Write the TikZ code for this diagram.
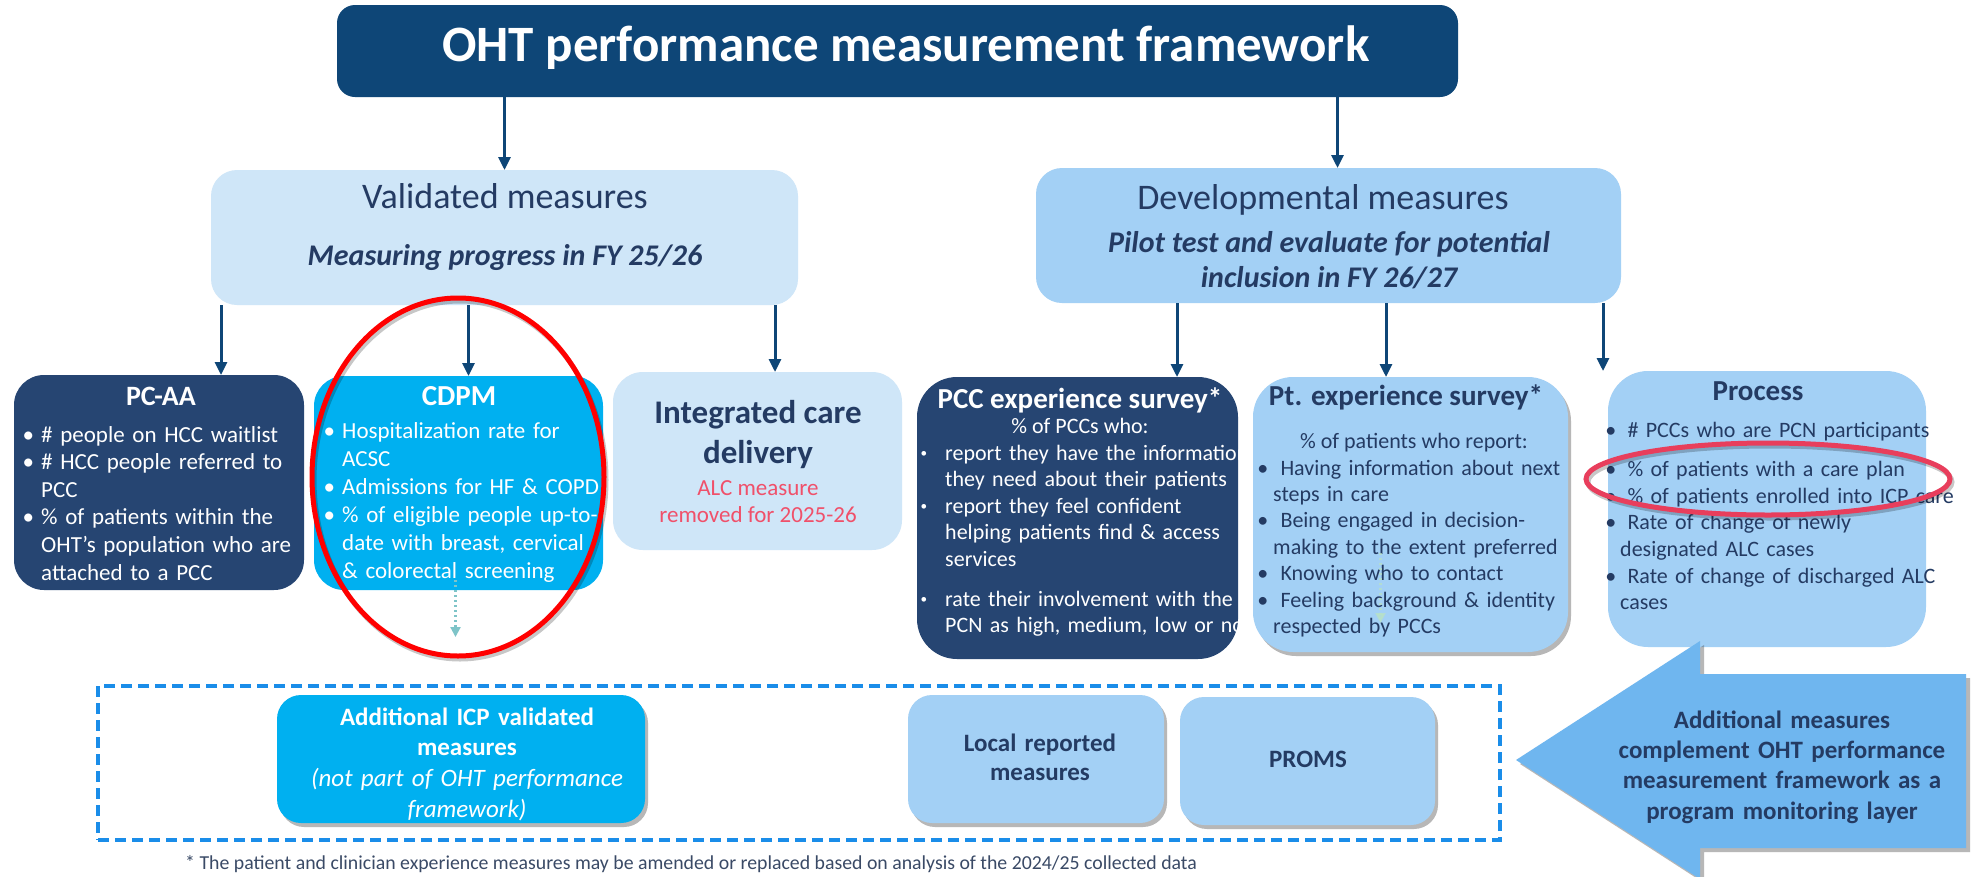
\documentclass[tikz,border=0pt]{standalone}
\usepackage{fontspec}
\setmainfont{Carlito}
\usetikzlibrary{arrows.meta,shadows}

\definecolor{titleblue}{HTML}{0E4677}
\definecolor{navy}{HTML}{264572}
\definecolor{cyanbox}{HTML}{00B0F0}
\definecolor{palebox}{HTML}{CFE6F8}
\definecolor{skybox}{HTML}{A3D0F5}
\definecolor{bigarrow}{HTML}{6FB6EF}
\definecolor{inktext}{HTML}{243B63}
\definecolor{alcred}{HTML}{F0506A}
\definecolor{dashblue}{HTML}{1A8DE9}
\definecolor{circlered}{HTML}{FF0000}
\definecolor{circlepink}{HTML}{E83E5C}
\definecolor{dotteal}{HTML}{7EC4C8}
\definecolor{dotgreen}{HTML}{B9E2C4}
\definecolor{notegray}{HTML}{3A4A66}

\newcommand\fs[2]{\fontsize{#1}{#2}\selectfont}
\newcommand\bu[1][7pt]{\leavevmode\llap{\textbullet\hspace{#1}}}
\newcommand\smallbu[1][18pt]{\leavevmode\llap{\raisebox{.12em}{\scalebox{.6}{\textbullet}}\hspace{#1}}}

\begin{document}
\begin{tikzpicture}[x=1pt,y=-1pt,
  box/.style={rectangle, inner sep=0pt, outer sep=0pt, rounded corners=#1},
  box/.default=26pt,
  softshadow/.style={drop shadow={shadow xshift=3pt,shadow yshift=-4pt,opacity=.4,fill=black!70}},
  arr/.style={draw=titleblue, line width=3pt, -{Triangle[length=13pt,width=12pt]}},
  dotline/.style={draw=#1, line width=2.2pt, dash pattern=on 2pt off 3pt, -{Triangle[length=10pt,width=10pt]}},
  txt/.style={inner sep=0pt, anchor=base},
  blist/.style={inner sep=0pt, anchor=base west, text width=#1, align=left},
  ctext/.style={inner sep=0pt, anchor=base, text width=#1, align=center},
]
\useasboundingbox (0,0) rectangle (1979,876);
\fill[white] (0,0) rectangle (1979,876);

% ---------- header ----------
\node[box=18pt, fill=titleblue, minimum width=1121pt, minimum height=92pt] (title) at (897.5,51) {};
\node[txt, text=white, font=\fs{51}{61}\bfseries] (titletext) at (906,61) {OHT performance measurement framework};

% ---------- measure families ----------
\node[box=26pt, fill=palebox, minimum width=587pt, minimum height=135pt] (val) at (504.5,237.5) {};
\node[txt, text=inktext, font=\fs{36}{43}] (valtitle) at (505,208) {Validated measures};
\node[txt, text=inktext, font=\fs{30}{36}\bfseries\itshape] (valsub) at (505,265) {Measuring progress in FY 25/26};

\node[box=26pt, fill=skybox, minimum width=585pt, minimum height=135pt] (dev) at (1328.5,235.5) {};
\node[txt, text=inktext, font=\fs{36}{43}] (devtitle) at (1323,209) {Developmental measures};
\node[txt, text=inktext, font=\fs{30}{36}\bfseries\itshape] (devsuba) at (1329,252) {Pilot test and evaluate for potential};
\node[txt, text=inktext, font=\fs{30}{36}\bfseries\itshape] (devsubb) at (1329,287) {inclusion in FY 26/27};

% ---------- validated measure boxes ----------
\node[box=30pt, fill=navy, minimum width=290pt, minimum height=215pt] (pcaa) at (159,482.5) {};
\node[txt, text=white, font=\fs{28}{34}\bfseries] (pcaatitle) at (161,405) {PC-AA};
\node[blist=300pt, text=white, font=\fs{23}{27.6}] (pcaalist) at (41,442)
  {\bu \# people on HCC waitlist\\
   \bu \# HCC people referred to\\
   PCC\\
   \bu \% of patients within the\\
   OHT’s population who are\\
   attached to a PCC};

\node[box=30pt, fill=cyanbox, minimum width=289pt, minimum height=214pt] (cdpm) at (458.5,483) {};
\node[txt, text=white, font=\fs{29}{34}\bfseries] (cdpmtitle) at (459,405) {CDPM};
\node[blist=300pt, text=white, font=\fs{23}{28}] (cdpmlist) at (342,438)
  {\bu Hospitalization rate for\\
   ACSC\\
   \bu Admissions for HF \& COPD\\
   \bu \% of eligible people up-to-\\
   date with breast, cervical\\
   \& colorectal screening};

\node[box=30pt, fill=palebox, minimum width=289pt, minimum height=178pt] (icd) at (757.5,461) {};
\node[txt, text=inktext, font=\fs{33}{40}\bfseries] (icdtitle) at (758,423) {Integrated care};
\node[txt, text=inktext, font=\fs{33}{40}\bfseries] (icdtitleb) at (758,463) {delivery};
\node[txt, text=alcred, font=\fs{23}{28}] (alca) at (758,495) {ALC measure};
\node[txt, text=alcred, font=\fs{23}{28}] (alcb) at (758,522) {removed for 2025-26};

% ---------- developmental measure boxes ----------
\node[box=40pt, fill=navy, minimum width=321pt, minimum height=282pt] (pcc) at (1077.5,518) {};
\node[txt, text=white, font=\fs{29}{34}\bfseries] (pcctitle) at (1080,408) {PCC experience survey*};
\node[txt, text=white, font=\fs{22}{26.5}] (pcclead) at (1080,433) {\% of PCCs who:};
\node[blist=320pt, text=white, font=\fs{22}{26.5}] (pcclist) at (945,460)
  {\smallbu report they have the information\\
   they need about their patients\\
   \smallbu report they feel confident\\
   helping patients find \& access\\
   services\\[13.5pt]
   \smallbu rate their involvement with the\\
   PCN as high, medium, low or no};

\node[box=40pt, fill=skybox, softshadow, minimum width=315pt, minimum height=275pt] (pt) at (1410.5,514.5) {};
\node[txt, text=inktext, font=\fs{29}{34}\bfseries] (pttitle) at (1406,405) {Pt. experience survey*};
\node[txt, text=inktext, font=\fs{22}{26.4}] (ptlead) at (1414,448) {\% of patients who report:};
\node[blist=320pt, text=inktext, font=\fs{22}{26.4}] (ptlist) at (1273,475)
  {\bu[5pt] Having information about next\\
   steps in care\\
   \bu[5pt] Being engaged in decision-\\
   making to the extent preferred\\
   \bu[5pt] Knowing who to contact\\
   \bu[5pt] Feeling background \& identity\\
   respected by PCCs};

\node[box=40pt, fill=skybox, minimum width=318pt, minimum height=276pt] (proc) at (1767,509) {};
\node[txt, text=inktext, font=\fs{29}{34}\bfseries] (proctitle) at (1758,400) {Process};
\node[blist=340pt, text=inktext, font=\fs{22}{26.6}] (proclist) at (1620,437)
  {\bu[4pt] \# PCCs who are PCN participants\\[13pt]
   \bu[4pt] \% of patients with a care plan\\
   \bu[4pt] \% of patients enrolled into ICP care\\
   \bu[4pt] Rate of change of newly\\
   designated ALC cases\\
   \bu[4pt] Rate of change of discharged ALC\\
   cases};

% ---------- connectors ----------
\draw[arr] (title.south -| val.north) -- (val.north);
\path (title.south -| dev.north) ++(9,0) coordinate (t2);
\draw[arr] (t2) -- (t2 |- dev.north);

\path (val.south west) ++(10,0) coordinate (v1);
\draw[arr] (v1) -- (v1 |- pcaa.north);
\path (val.south -| cdpm.north) ++(10,0) coordinate (v2);
\draw[arr] (v2) -- (v2 |- cdpm.north);
\path (val.south east) ++(-23,0) coordinate (v3);
\draw[arr] (v3) -- (v3 |- icd.north);

\path (dev.south west) ++(141,0) coordinate (d1);
\draw[arr] (d1) -- (d1 |- pcc.north);
\path (dev.south west) ++(350,0) coordinate (d2);
\draw[arr] (d2) -- (d2 |- pt.north);
\path (dev.south east) ++(-18,0) coordinate (d3);
\draw[arr] (d3) -- (d3 |- proc.north);

% dotted pointers towards the monitoring layer
\path (cdpm.south) ++(-3,-10) coordinate (c1);
\path (cdpm.south) ++(-3,47) coordinate (c2);
\draw[dotline=dotteal] (c1) -- (c2);
\path (pt.south) ++(-30,-99) coordinate (p1);
\path (pt.south) ++(-30,-29) coordinate (p2);
\draw[dotline=dotgreen, opacity=.7] (p1) -- (p2);

% ---------- program monitoring layer ----------
\node[draw=dashblue, line width=4pt, dash pattern=on 11pt off 6pt, minimum width=1402pt, minimum height=154pt, inner sep=0pt] (monitor) at (799,763) {};

\node[box=24pt, fill=cyanbox, softshadow, minimum width=368pt, minimum height=128pt] (addicp) at (461,759) {};
\node[ctext=360pt, text=white, font=\fs{25}{30.7}] (addicptext) at (467,725)
  {{\bfseries Additional ICP validated\\ measures}\\
   {\itshape (not part of OHT performance\\ framework)}};

\node[box=24pt, fill=skybox, softshadow, minimum width=256pt, minimum height=128pt] (local) at (1036,759) {};
\node[ctext=250pt, text=inktext, font=\fs{25}{29.5}\bfseries] (localtext) at (1040,751) {Local reported\\ measures};

\node[box=24pt, fill=skybox, softshadow, minimum width=255pt, minimum height=128pt] (proms) at (1307.5,761) {};
\node[txt, text=inktext, font=\fs{25}{30}\bfseries] (promstext) at (1308,767) {PROMS};

% ---------- highlight rings ----------
\draw[black, opacity=.22, line width=5pt] (460,480) ellipse [x radius=146pt, y radius=179pt];
\draw[circlered, line width=5pt] (458,477) ellipse [x radius=146pt, y radius=179pt];
\draw[black, opacity=.22, line width=5pt] (1770,482) ellipse [x radius=182pt, y radius=36pt];
\draw[circlepink, line width=5pt] (1768,479) ellipse [x radius=182pt, y radius=36pt];

% ---------- side arrow ----------
\fill[bigarrow, drop shadow={shadow xshift=4pt,shadow yshift=-4pt,opacity=.4,fill=black!70}]
  (1516,760) -- (1700,641) -- (1700,674) -- (1966,674) -- (1966,848) -- (1700,848) -- (1700,879) -- cycle;
\node[ctext=380pt, text=inktext, font=\fs{25}{30.4}\bfseries] (sidetext) at (1782,728)
  {Additional measures\\ complement OHT performance\\ measurement framework as a\\ program monitoring layer};

% ---------- footnote ----------
\node[inner sep=0pt, anchor=base west, text=notegray, font=\fs{19.8}{24}] (footnote) at (185,869)
  {* The patient and clinician experience measures may be amended or replaced based on analysis of the 2024/25 collected data};
\end{tikzpicture}
\end{document}
